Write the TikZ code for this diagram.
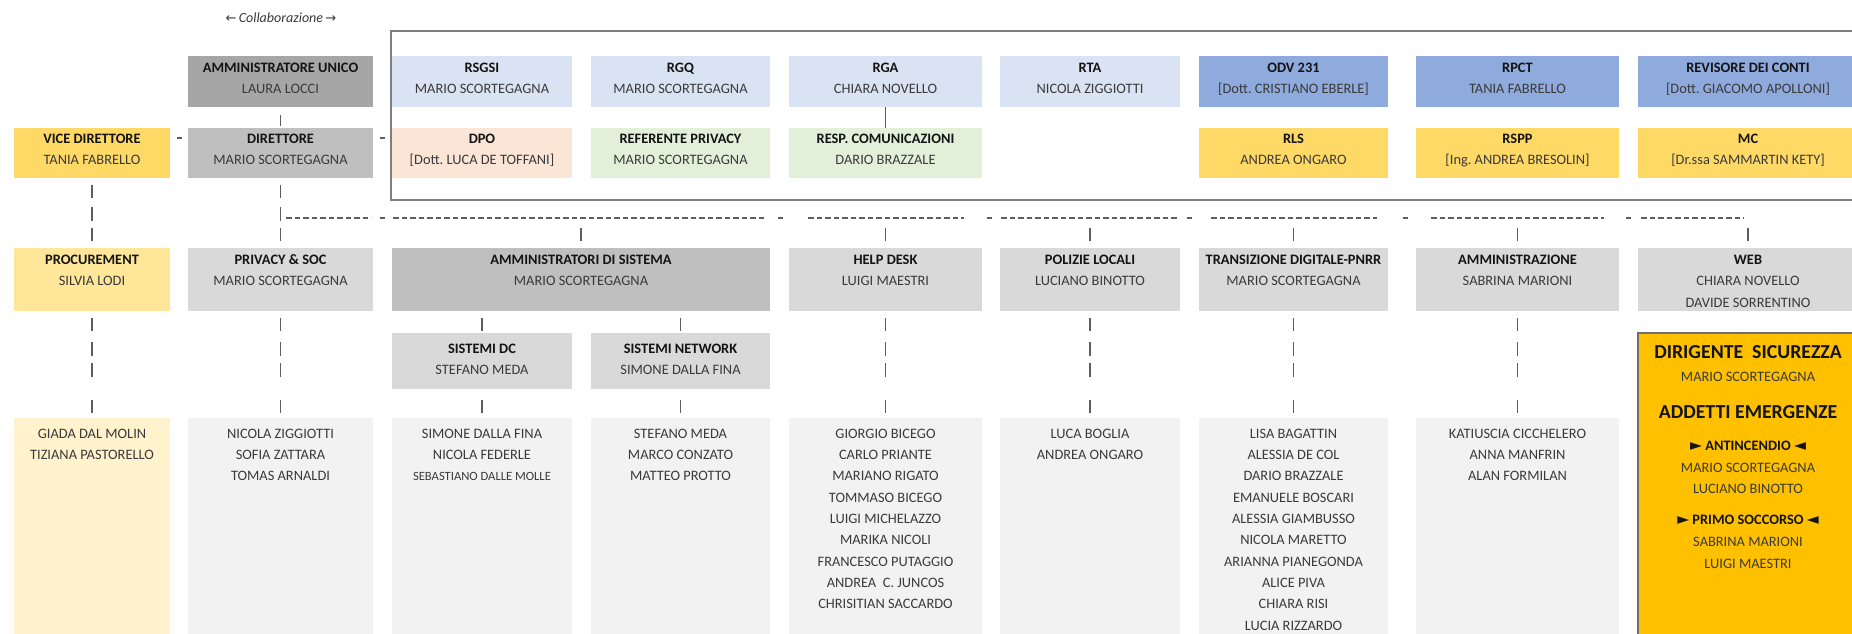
\documentclass[tikz,border=0pt]{standalone}
\usepackage{fontspec}
\setmainfont{Carlito}
\newfontfamily\symfont{DejaVu Sans}
\usetikzlibrary{calc}
\frenchspacing
\definecolor{hdcol}{HTML}{141414}
\definecolor{namecol}{HTML}{3A3A3A}
\definecolor{lncol}{HTML}{5E5E5E}
\definecolor{frcol}{HTML}{7F7F7F}
\definecolor{cAmm}{HTML}{A6A6A6}
\definecolor{cDir}{HTML}{BFBFBF}
\definecolor{cGray}{HTML}{D9D9D9}
\definecolor{cList}{HTML}{F2F2F2}
\definecolor{cBlueL}{HTML}{DAE3F3}
\definecolor{cBlue}{HTML}{8FAADC}
\definecolor{cPeach}{HTML}{FBE5D6}
\definecolor{cGreen}{HTML}{E2F0D9}
\definecolor{cYel}{HTML}{FFD966}
\definecolor{cYelM}{HTML}{FFE699}
\definecolor{cYelL}{HTML}{FFF2CC}
\definecolor{cOrange}{HTML}{FFC000}
\definecolor{cOrBorder}{HTML}{6E6E6E}
\newcommand\hd[1]{\textbf{\color{hdcol}#1}}
\newcommand\tri[1]{{\symfont\fontsize{15.5}{12}\selectfont\color{hdcol}#1}}
\newcommand\orgbox[8]{%
  \node[box,fill=#6,minimum width={#4-#2},minimum height={#5-#3}] (#1) at (#2,#3) {};
  \node[lbl] (#1-t) at ([yshift={-(#7)+7.45}]#1.north) {\rule{0pt}{12pt}#8};
}
\tikzset{
  box/.style={anchor=north west,inner sep=0pt,outer sep=0pt,draw=none,rectangle},
  lbl/.style={anchor=north,inner sep=0pt,outer sep=0pt,align=center,
    font=\fontsize{14.4}{21.33}\selectfont,text=namecol},
  tk/.style={draw=lncol,line width=1.3pt},
  tkA/.style={tk,dash pattern=on 13pt off 9pt on 14pt off 7pt on 13pt off 14pt,dash phase=63pt},
  tkB/.style={tk,dash pattern=on 13pt off 11pt on 14pt off 7pt on 14pt off 23pt on 13pt off 12pt,dash phase=100pt},
  tkC/.style={tk,dash pattern=on 13pt off 17pt,dash phase=20pt},
  tkD/.style={tk,dash pattern=on 13pt off 9pt,dash phase=15pt},
  tkE/.style={tk,dash pattern=on 13pt off 16pt,dash phase=18pt},
  tkF/.style={tk,dash pattern=on 11pt off 10pt,dash phase=13pt},
  solidln/.style={draw=lncol,line width=1.2pt},
  busln/.style={draw=lncol,line width=1.1pt,dash pattern=on 5.5pt off 3pt},
  hy/.style={draw=lncol,line width=1.1pt},
  frame/.style={draw=frcol,line width=1.3pt},
}
\begin{document}
\begin{tikzpicture}[x=1pt,y=-1pt]
\useasboundingbox (0,0) rectangle (1852,634);
\clip (0,0) rectangle (1852,634);
\fill[white] (0,0) rectangle (1852,634);

% collaboration label
\node[font=\fontsize{14}{16}\selectfont\itshape,text=namecol,inner sep=0pt] (collab) at (281,18)
  {{\symfont\upshape\fontsize{13}{14}\selectfont ←}\,Collaborazione\,{\symfont\upshape\fontsize{13}{14}\selectfont →}};

% frame of staff functions
\draw[frame] (391,31) rectangle (1900,200);

% row 1
\orgbox{amm}{188}{56}{373}{107}{cAmm}{12}{\hd{AMMINISTRATORE UNICO}\\LAURA LOCCI}
\orgbox{rsgsi}{392}{56}{572}{107}{cBlueL}{12}{\hd{RSGSI}\\MARIO SCORTEGAGNA}
\orgbox{rgq}{591}{56}{770}{107}{cBlueL}{12}{\hd{RGQ}\\MARIO SCORTEGAGNA}
\orgbox{rga}{789}{56}{982}{107}{cBlueL}{12}{\hd{RGA}\\CHIARA NOVELLO}
\orgbox{rta}{1000}{56}{1180}{107}{cBlueL}{12}{\hd{RTA}\\NICOLA ZIGGIOTTI}
\orgbox{odv}{1199}{56}{1388}{107}{cBlue}{12}{\hd{ODV 231}\\{}[Dott. CRISTIANO EBERLE]}
\orgbox{rpct}{1416}{56}{1619}{107}{cBlue}{12}{\hd{RPCT}\\TANIA FABRELLO}
\orgbox{rev}{1638}{56}{1858}{107}{cBlue}{12}{\hd{REVISORE DEI CONTI}\\{}[Dott. GIACOMO APOLLONI]}

% row 2
\orgbox{vice}{14}{128}{170}{178}{cYel}{11}{\hd{VICE DIRETTORE}\\TANIA FABRELLO}
\orgbox{dir}{188}{128}{373}{178}{cDir}{11}{\hd{DIRETTORE}\\MARIO SCORTEGAGNA}
\orgbox{dpo}{392}{128}{572}{178}{cPeach}{11}{\hd{DPO}\\{}[Dott. LUCA DE TOFFANI]}
\orgbox{refp}{591}{128}{770}{178}{cGreen}{11}{\hd{REFERENTE PRIVACY}\\MARIO SCORTEGAGNA}
\orgbox{resp}{789}{128}{982}{178}{cGreen}{11}{\hd{RESP. COMUNICAZIONI}\\DARIO BRAZZALE}
\orgbox{rls}{1199}{128}{1388}{178}{cYel}{11}{\hd{RLS}\\ANDREA ONGARO}
\orgbox{rspp}{1416}{128}{1619}{178}{cYel}{11}{\hd{RSPP}\\{}[Ing. ANDREA BRESOLIN]}
\orgbox{mc}{1638}{128}{1858}{178}{cYel}{11}{\hd{MC}\\{}[Dr.ssa SAMMARTIN KETY]}

% row 3
\orgbox{proc}{14}{248}{170}{311}{cYelM}{12}{\hd{PROCUREMENT}\\SILVIA LODI}
\orgbox{priv}{188}{248}{373}{311}{cGray}{12}{\hd{PRIVACY \& SOC}\\MARIO SCORTEGAGNA}
\orgbox{ads}{392}{248}{770}{311}{cDir}{12}{\hd{AMMINISTRATORI DI SISTEMA}\\MARIO SCORTEGAGNA}
\orgbox{help}{789}{248}{982}{311}{cGray}{12}{\hd{HELP DESK}\\LUIGI MAESTRI}
\orgbox{pol}{1000}{248}{1180}{311}{cGray}{12}{\hd{POLIZIE LOCALI}\\LUCIANO BINOTTO}
\orgbox{tdp}{1199}{248}{1388}{311}{cGray}{12}{\hd{TRANSIZIONE DIGITALE-PNRR}\\MARIO SCORTEGAGNA}
\orgbox{amz}{1416}{248}{1619}{311}{cGray}{12}{\hd{AMMINISTRAZIONE}\\SABRINA MARIONI}
\orgbox{web}{1638}{248}{1858}{311}{cGray}{12}{\hd{WEB}\\CHIARA NOVELLO\\DAVIDE SORRENTINO}

% row 4
\orgbox{sdc}{392}{333}{572}{389}{cGray}{16}{\hd{SISTEMI DC}\\STEFANO MEDA}
\orgbox{snet}{591}{333}{770}{389}{cGray}{16}{\hd{SISTEMI NETWORK}\\SIMONE DALLA FINA}

% safety box
\node[box,fill=cOrange,draw=cOrBorder,line width=1.5pt,minimum width=220,minimum height=320] (dirsic) at (1638,333) {};
\node[lbl] (dirsic-t) at ([yshift=-9]dirsic.north) {\rule{0pt}{16pt}{\fontsize{19.8}{21.33}\selectfont\hd{DIRIGENTE\ \ SICUREZZA}}\\[2pt]
MARIO SCORTEGAGNA\\[15.6pt]
{\fontsize{19.8}{21.33}\selectfont\hd{ADDETTI EMERGENZE}}\\[11.4pt]
\tri{►}\ \hd{ANTINCENDIO}\ \tri{◄}\\
MARIO SCORTEGAGNA\\
LUCIANO BINOTTO\\[9.7pt]
\tri{►}\ \hd{PRIMO SOCCORSO}\ \tri{◄}\\[0.7pt]
SABRINA MARIONI\\
LUIGI MAESTRI};

% row 5 (lists)
\orgbox{l0}{14}{418}{170}{650}{cYelL}{15.5}{GIADA DAL MOLIN\\TIZIANA PASTORELLO}
\orgbox{l1}{188}{418}{373}{650}{cList}{15.5}{NICOLA ZIGGIOTTI\\SOFIA ZATTARA\\TOMAS ARNALDI}
\orgbox{l2}{392}{418}{572}{650}{cList}{15.5}{SIMONE DALLA FINA\\NICOLA FEDERLE\\{\fontsize{12.6}{21.33}\selectfont SEBASTIANO DALLE MOLLE}}
\orgbox{l3}{591}{418}{770}{650}{cList}{15.5}{STEFANO MEDA\\MARCO CONZATO\\MATTEO PROTTO}
\orgbox{l4}{789}{418}{982}{650}{cList}{15.5}{GIORGIO BICEGO\\CARLO PRIANTE\\MARIANO RIGATO\\TOMMASO BICEGO\\LUIGI MICHELAZZO\\MARIKA NICOLI\\FRANCESCO PUTAGGIO\\ANDREA\ \ C. JUNCOS\\CHRISITIAN SACCARDO}
\orgbox{l5}{1000}{418}{1180}{650}{cList}{15.5}{LUCA BOGLIA\\ANDREA ONGARO}
\orgbox{l6}{1199}{418}{1388}{650}{cList}{15.5}{LISA BAGATTIN\\ALESSIA DE COL\\DARIO BRAZZALE\\EMANUELE BOSCARI\\ALESSIA GIAMBUSSO\\NICOLA MARETTO\\ARIANNA PIANEGONDA\\ALICE PIVA\\CHIARA RISI\\LUCIA RIZZARDO}
\orgbox{l7}{1416}{418}{1619}{650}{cList}{15.5}{KATIUSCIA CICCHELERO\\ANNA MANFRIN\\ALAN FORMILAN}

% connectors
\coordinate (bus) at (0,218);
\draw[tkF] (amm.south) -- (dir.north);
\draw[solidln] (rga.south) -- (resp.north);
\draw[tkA] (vice.south) -- (proc.north);
\draw[tkA] (dir.south) -- (priv.north);
\draw[hy] ($(vice.north east)!0.5!(dir.north west)+(-2.5,10)$) -- ++(5,0);
\draw[hy] ($(dir.north east)!0.5!(dpo.north west)+(-2.5,10)$) -- ++(5,0);
\foreach \a/\b in {286/371,393/766,808/964,1001/1179,1211/1377,1431/1604,1641/1744}
  \draw[busln] (\a,218) -- (\b,218);
\foreach \a in {382,780,989,1189,1405,1628}
  \draw[hy] (\a-2.5,218) -- (\a+2.5,218);
\foreach \n in {ads,help,pol,tdp,amz,web}
  \draw[tkC] (\n.north |- bus) -- (\n.north);
\foreach \a/\b in {proc/l0,priv/l1,help/l4,pol/l5,tdp/l6,amz/l7}
  \draw[tkB] (\a.south) -- (\b.north);
\draw[tkD] (sdc.north |- ads.south) -- (sdc.north);
\draw[tkD] (snet.north |- ads.south) -- (snet.north);
\draw[tkE] (sdc.south) -- (l2.north);
\draw[tkE] (snet.south) -- (l3.north);
\end{tikzpicture}
\end{document}
